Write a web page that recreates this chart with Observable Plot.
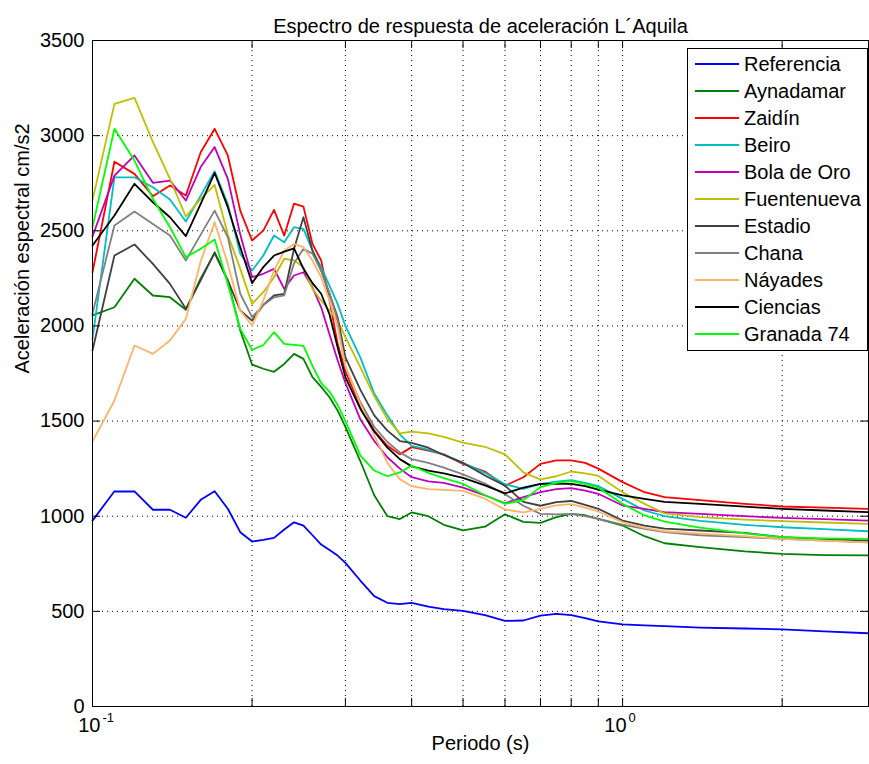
<!DOCTYPE html>
<html>
<head>
<meta charset="utf-8">
<script src="https://cdn.jsdelivr.net/npm/d3@7"></script>
<script src="https://cdn.jsdelivr.net/npm/@observablehq/plot@0.6"></script>
<style>
  html, body { margin: 0; padding: 0; background: #fff; }
</style>
</head>
<body>
<div id="chart"></div>
<script>
// ---- Data ----
const periods = [0.10,0.11,0.12,0.13,0.14,0.15,0.16,0.17,0.18,0.19,
                 0.20,0.21,0.22,0.23,0.24,0.25,0.26,0.27,0.28,0.29,
                 0.30,0.32,0.34,0.36,0.38,0.40,0.43,0.46,0.50,0.55,
                 0.60,0.65,0.70,0.75,0.80,0.85,0.90,1.0,1.1,1.2,
                 1.4,1.7,2.0,2.4,2.9];

const referencia = [977,1131,1130,1034,1034,992,1086,1131,1039,916,
                    867,876,886,930,968,951,900,851,822,793,
                    755,662,580,545,538,545,525,512,503,480,
                    450,452,478,487,480,465,447,432,426,422,
                    415,410,405,395,385];
const aynadamar = [2055,2098,2248,2160,2151,2085,2250,2382,2239,1976,
                   1797,1775,1759,1800,1853,1827,1731,1680,1625,1555,
                   1470,1290,1110,1000,985,1020,1000,955,925,945,
                   1010,970,965,995,1012,1005,986,951,895,858,
                   838,815,802,796,794];
const zaidin = [2282,2863,2799,2682,2738,2685,2913,3036,2896,2606,
                2449,2501,2610,2475,2643,2627,2431,2344,2134,1906,
                1760,1580,1450,1370,1325,1363,1345,1325,1275,1235,
                1160,1205,1275,1293,1293,1280,1250,1179,1126,1100,
                1085,1065,1051,1045,1039];
const beiro = [1930,2781,2781,2729,2664,2549,2685,2813,2640,2379,
               2291,2370,2475,2440,2519,2510,2396,2309,2210,2116,
               2000,1835,1645,1530,1430,1370,1350,1323,1280,1228,
               1168,1144,1170,1182,1190,1175,1158,1091,1030,1000,
               975,955,942,932,921];
const bolaDeOro = [2470,2790,2896,2752,2764,2659,2835,2940,2773,2480,
                   2256,2274,2300,2195,2265,2282,2203,2098,1955,1820,
                   1700,1510,1395,1310,1250,1205,1183,1175,1150,1110,
                   1068,1100,1126,1142,1148,1135,1118,1056,1039,1021,
                   1012,1000,991,985,977];
const fuentenueva = [2660,3167,3199,2967,2773,2575,2668,2741,2480,2300,
                     2116,2177,2256,2353,2344,2309,2195,2134,2081,2028,
                     1941,1783,1631,1510,1435,1445,1435,1417,1387,1365,
                     1325,1230,1193,1210,1235,1225,1212,1126,1065,1015,
                     995,982,974,967,960];
const estadio = [1871,2370,2428,2326,2221,2090,2239,2387,2239,2081,
                 2028,2110,2160,2169,2405,2571,2396,2291,2169,2046,
                 1835,1665,1530,1450,1395,1385,1360,1322,1280,1214,
                 1160,1075,1055,1074,1080,1060,1039,977,951,935,
                 925,912,890,880,872];
const chana = [2065,2528,2601,2536,2475,2344,2480,2606,2466,2169,
               2046,2110,2150,2160,2330,2405,2380,2290,2170,2030,
               1783,1600,1470,1390,1335,1300,1280,1255,1220,1172,
               1115,1055,1012,1010,1012,1000,986,956,934,916,
               900,890,881,872,863];
const nayades = [1393,1608,1897,1853,1923,2037,2340,2545,2326,2081,
                 2002,2134,2291,2396,2431,2414,2344,2256,2134,1993,
                 1790,1590,1425,1280,1195,1158,1142,1138,1133,1092,
                 1035,1020,1038,1057,1063,1045,1025,969,939,921,
                 908,895,881,872,863];
const ciencias = [2423,2580,2747,2650,2571,2472,2641,2804,2624,2414,
                  2225,2309,2370,2390,2408,2300,2225,2169,2060,1888,
                  1730,1565,1445,1360,1300,1262,1240,1225,1202,1162,
                  1120,1150,1170,1170,1170,1158,1140,1109,1091,1075,
                  1065,1050,1039,1030,1021];
const granada74 = [2519,3036,2869,2668,2519,2361,2405,2454,2221,1985,
                   1874,1900,1967,1906,1900,1895,1790,1700,1655,1585,
                   1500,1320,1240,1210,1230,1266,1228,1200,1170,1110,
                   1065,1085,1153,1175,1185,1170,1150,1065,1004,972,
                   940,910,890,884,881];

const seriesNames = ["Referencia","Aynadamar","Zaidín","Beiro","Bola de Oro","Fuentenueva",
                     "Estadio","Chana","Náyades","Ciencias","Granada 74"];
const seriesColors = ["#0000ff","#008000","#ff0000","#00bfbf","#bf00bf","#bfbf00",
                      "#404040","#808080","#ffb366","#000000","#00ff00"];
const seriesValues = [referencia,aynadamar,zaidin,beiro,bolaDeOro,fuentenueva,
                      estadio,chana,nayades,ciencias,granada74];

const xTicks = [0.1,0.2,0.3,0.4,0.5,0.6,0.7,0.8,0.9,1,2];
const xLabelValues = [0.1, 1];
const xLabelExponents = ["-1", "0"];
const yTicks = [0,500,1000,1500,2000,2500,3000,3500];

const titleText = "Espectro de respuesta de aceleración L´Aquila";
const xLabelText = "Periodo (s)";
const yLabelText = "Aceleración espectral cm/s2";

// ---- Build table ----
const rows = seriesNames.flatMap((name, i) =>
  periods.map((p, j) => ({name, period: p, value: seriesValues[i][j]})));

const W = 869, H = 764, ML = 92, MR = 1, MT = 40, MB = 58;
const frameH = H - MT - MB, frameW = W - ML - MR;
const tickLen = 8;
const font = "'Liberation Sans', Arial, sans-serif";
const fs = 20;

const xLabelMarks = xLabelValues.flatMap((v, i) => {
  const exp = xLabelExponents[i];
  const shift = exp.length > 1 ? 10 : 6;
  return [
    Plot.text([v], {x: d => d, text: () => "10", frameAnchor: "bottom", dy: 25, dx: shift - 2, textAnchor: "end", fontSize: fs}),
    Plot.text([v], {x: d => d, text: () => exp, frameAnchor: "bottom", dy: 15, dx: shift, textAnchor: "start", fontSize: 13})
  ];
});

const chart = Plot.plot({
  width: W, height: H,
  marginLeft: ML, marginRight: MR, marginTop: MT, marginBottom: MB,
  style: {fontFamily: font, fontSize: fs + "px", background: "#fff", color: "#000", overflow: "visible"},
  x: {type: "log", domain: [0.1, 2.91]},
  y: {domain: [0, 3500]},
  color: {domain: seriesNames, range: seriesColors},
  marks: [
    Plot.gridX(xTicks.filter(d => d > 0.1), {stroke: "#000", strokeOpacity: 1, strokeDasharray: "1,4"}),
    Plot.gridY(yTicks.filter(d => d > 0 && d < 3500), {stroke: "#000", strokeOpacity: 1, strokeDasharray: "1,4"}),
    Plot.line(rows, {x: "period", y: "value", z: "name", stroke: "name", strokeWidth: 1.8}),
    Plot.frame({stroke: "#000"}),
    Plot.tickX(xTicks, {x: d => d, insetTop: frameH - tickLen, stroke: "#000"}),
    Plot.tickX(xTicks, {x: d => d, insetBottom: frameH - tickLen, stroke: "#000"}),
    Plot.tickY(yTicks, {y: d => d, insetRight: frameW - tickLen, stroke: "#000"}),
    Plot.tickY(yTicks, {y: d => d, insetLeft: frameW - tickLen, stroke: "#000"}),
    Plot.axisY(yTicks, {tickSize: 0, tickPadding: 8, label: null, fontSize: fs, tickFormat: d => String(d)}),
    Plot.axisX([], {tickSize: 0, label: null}),
    ...xLabelMarks,
    Plot.text([titleText], {text: d => d, frameAnchor: "top", dy: -22, fontSize: fs}),
    Plot.text([xLabelText], {text: d => d, frameAnchor: "bottom", dy: 43, fontSize: fs}),
    Plot.text([yLabelText], {text: d => d, frameAnchor: "left", dx: -70, rotate: -90, fontSize: fs})
  ]
});

// ---- Legend (inside the axes, top-right) ----
const svg = d3.select(chart);
const lg = svg.append("g").attr("font-family", font).attr("font-size", fs).attr("text-anchor", "start");
const lx = 687, ly = 48, lw = 180, lh = 302, rowH = 27, row0 = 64;
lg.append("rect").attr("x", lx + 0.5).attr("y", ly + 0.5).attr("width", lw).attr("height", lh)
  .attr("fill", "#fff").attr("stroke", "#000");
seriesNames.forEach((n, i) => {
  const y = row0 + rowH * i;
  lg.append("line").attr("x1", 695).attr("x2", 739).attr("y1", y).attr("y2", y)
    .attr("stroke", seriesColors[i]).attr("stroke-width", 1.8);
  lg.append("text").attr("x", 744).attr("y", y).attr("dy", "0.35em")
    .attr("text-anchor", "start").attr("fill", "#000").text(n);
});

document.getElementById("chart").appendChild(chart);
</script>
</body>
</html>
